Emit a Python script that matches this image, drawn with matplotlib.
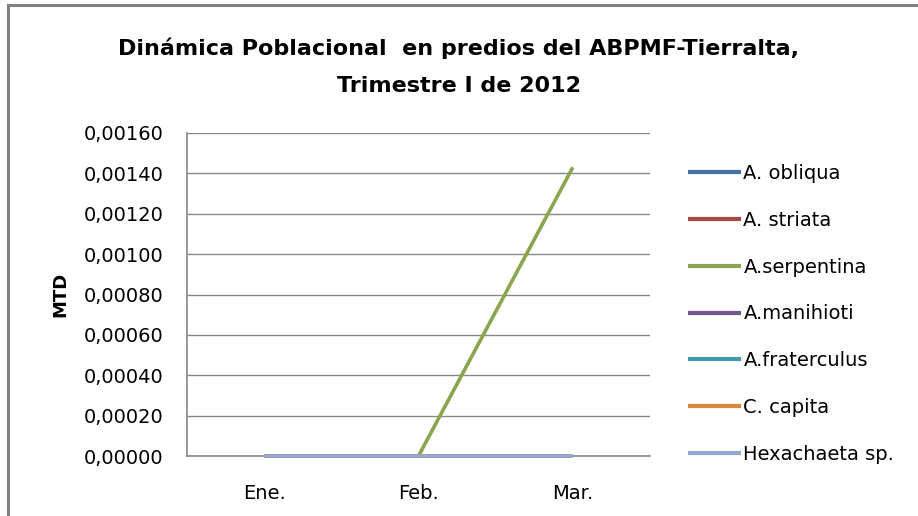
import matplotlib
matplotlib.use("Agg")
import matplotlib.pyplot as plt
from matplotlib.lines import Line2D
from matplotlib.ticker import FuncFormatter

# --------------------------- Data ---------------------------- #
months = ["Ene.", "Feb.", "Mar."]
series_names = ["A. obliqua", "A. striata", "A.serpentina", "A.manihioti",
                "A.fraterculus", "C. capita", "Hexachaeta sp."]
obliqua = [0, 0, 0]
striata = [0, 0, 0]
serpentina = [0, 0, 0.00143]
manihioti = [0, 0, 0]
fraterculus = [0, 0, 0]
capita = [0, 0, 0]
hexachaeta = [0, 0, 0]
series_values = [obliqua, striata, serpentina, manihioti, fraterculus, capita, hexachaeta]
colors = ["#4472a8", "#aa4643", "#89a54e", "#71588f", "#4198af", "#db843d", "#93a9cf"]

plt.rcParams['font.family'] = ['DejaVu Sans']

fig = plt.figure(figsize=(9.18, 5.16), dpi=100)
ax = fig.add_axes([187 / 918, 1 - 456 / 516, 463 / 918, 323 / 516])

x = range(len(months))
for name, vals, c in zip(series_names, series_values, colors):
    ax.plot(x, vals, color=c, lw=2.6, label=name, solid_capstyle='butt',
            zorder=3, clip_on=False)

ax.set_xlim(-0.5, 2.5)
ax.set_ylim(0, 0.0016)
ax.set_yticks([i * 0.0002 for i in range(9)])
ax.yaxis.set_major_formatter(FuncFormatter(lambda v, p: f"{v:.5f}".replace(".", ",")))
ax.set_xticks(list(x))
ax.set_xticklabels(months)
ax.tick_params(axis='both', length=0, labelsize=14, colors='#000000')
ax.tick_params(axis='x', pad=20)
ax.tick_params(axis='y', pad=17)
ax.grid(axis='y', color='#888888', lw=1)
ax.set_axisbelow(True)
for s in ['top', 'right']:
    ax.spines[s].set_visible(False)
for s in ['left', 'bottom']:
    ax.spines[s].set_color('#888888')
    ax.spines[s].set_linewidth(1.2)

ax.set_ylabel("MTD", fontsize=13, fontweight='bold', labelpad=10)

fig.text(0.5, 1 - 48 / 516, "Dinámica Poblacional  en predios del ABPMF-Tierralta,",
         ha='center', va='center', fontsize=16, fontweight='bold')
fig.text(0.5, 1 - 86 / 516, "Trimestre I de 2012",
         ha='center', va='center', fontsize=16, fontweight='bold')

leg = ax.legend(loc='upper left', bbox_to_anchor=(688 / 918, 1 - 164 / 516),
                bbox_transform=fig.transFigure, frameon=False, fontsize=14,
                handlelength=2.75, handletextpad=0.1, labelspacing=1.43,
                borderaxespad=0, borderpad=0)
for line in leg.get_lines():
    line.set_linewidth(3)

# chart frame: only top and left edges are visible in the crop
fig.add_artist(Line2D([7.5 / 918, 7.5 / 918], [0, 1 - 5 / 516],
                      transform=fig.transFigure, color='#808080', lw=2.2))
fig.add_artist(Line2D([7.5 / 918, 1], [1 - 5 / 516, 1 - 5 / 516],
                      transform=fig.transFigure, color='#808080', lw=2.2))

fig.savefig("out.png", dpi=100)
